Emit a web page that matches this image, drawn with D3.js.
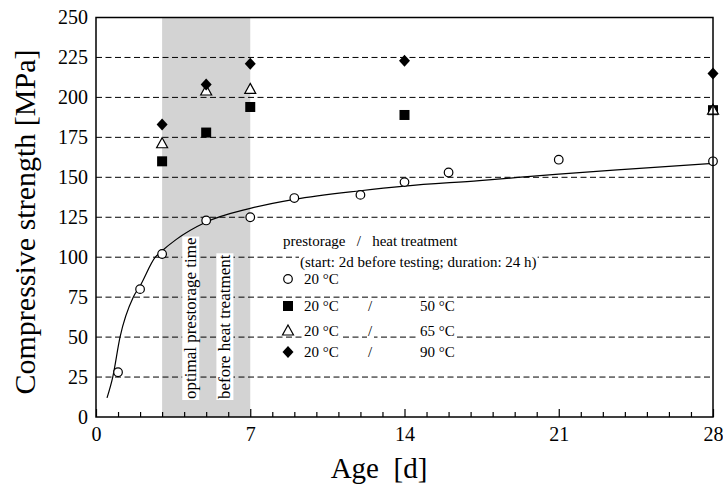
<!DOCTYPE html>
<html><head><meta charset="utf-8">
<script src="https://cdn.jsdelivr.net/npm/d3@7"></script>
<style>
body{margin:0;background:#fff}
text{font-family:"Liberation Serif","Times New Roman",serif;fill:#000}
</style>
</head><body>
<svg id="c" width="723" height="486"></svg>
<script>
// ---- data ----
const yTicks = [0, 25, 50, 75, 100, 125, 150, 175, 200, 225, 250];
const gridVals = [25, 50, 75, 100, 125, 150, 175, 200, 225];
const xTicks = [0, 7, 14, 21, 28];
const xMinor = d3.range(0, 29);

const ageRef = [1, 2, 3, 5, 7, 9, 12, 14, 16, 21, 28];
const strRef = [28, 80, 102, 123, 125, 137, 139, 147, 153, 161, 160];

const age50 = [3, 5, 7, 14, 28];
const str50 = [160, 178, 194, 189, 192];

const age65 = [3, 5, 7, 28];
const str65 = [171, 204, 205, 192];

const age90 = [3, 5, 7, 14, 28];
const str90 = [183, 208, 221, 223, 215];

const fitAge = [0.5, 0.76, 1.09, 1.69, 2.0, 2.69, 3.0, 3.63, 5, 7, 9, 12, 14, 17.4, 21, 24.5, 28];
const fitStr = [12, 25, 50, 75, 82, 100, 104, 111, 122, 130.6, 136.2, 141.6, 144.5, 147.9, 152, 155.4, 158.7];

const shadeRange = [3, 7];

// ---- scales ----
const svg = d3.select("#c");
const x = d3.scaleLinear().domain([0, 28]).range([96, 713]);
const y = d3.scaleLinear().domain([0, 250]).range([417, 17.5]);

// shaded band
svg.append("rect")
  .attr("x", x(shadeRange[0])).attr("y", y(250))
  .attr("width", x(shadeRange[1]) - x(shadeRange[0]))
  .attr("height", y(0) - y(250))
  .attr("fill", "#d3d3d3");

// grid
svg.append("g").selectAll("line").data(gridVals).join("line")
  .attr("x1", x(0)).attr("x2", x(28))
  .attr("y1", d => y(d)).attr("y2", d => y(d))
  .attr("stroke", "#000").attr("stroke-width", 1)
  .attr("stroke-dasharray", "6,3.5");

// helper: text with white background
function boxedText(g, txt, size, anchor) {
  const t = g.append("text").attr("font-size", size)
    .attr("text-anchor", anchor || "start")
    .attr("dominant-baseline", "central")
    .attr("xml:space", "preserve")
    .style("white-space", "pre")
    .text(txt);
  const bb = t.node().getBBox();
  g.insert("rect", "text")
    .attr("x", bb.x - 1).attr("y", bb.y + 1)
    .attr("width", bb.width + 2).attr("height", bb.height - 2)
    .attr("fill", "#fff");
  return t;
}

// vertical annotations
const v1 = svg.append("g").attr("transform", `translate(${x(4.3)},399) rotate(-90)`);
boxedText(v1, "optimal prestorage time", 17);
const v2 = svg.append("g").attr("transform", `translate(${x(5.85)},399) rotate(-90)`);
boxedText(v2, "before heat treatment", 17);

// legend
const legRows = [
  {sym: "circle", a: "20 °C", b: ""},
  {sym: "square", a: "20 °C", b: "50 °C"},
  {sym: "triangle", a: "20 °C", b: "65 °C"},
  {sym: "diamond", a: "20 °C", b: "90 °C"}
];
const legY = [279, 306, 331, 352];
const lt = svg.append("g").attr("transform", "translate(283,241)");
boxedText(lt, "prestorage   /   heat treatment", 15);
const lt2 = svg.append("g").attr("transform", "translate(300,262)");
boxedText(lt2, "(start: 2d before testing; duration: 24 h)", 15);
legRows.forEach((r, i) => {
  const g1 = svg.append("g").attr("transform", `translate(304,${legY[i]})`);
  boxedText(g1, r.a, 15);
  if (r.b) {
    const g2 = svg.append("g").attr("transform", `translate(368,${legY[i]})`);
    boxedText(g2, "/", 15);
    const g3 = svg.append("g").attr("transform", `translate(420,${legY[i]})`);
    boxedText(g3, r.b, 15);
  }
});

// fitted curve
const fit = fitAge.map((d, i) => [d, fitStr[i]]);
svg.append("path")
  .attr("d", d3.line().x(d => x(d[0])).y(d => y(d[1])).curve(d3.curveMonotoneX)(fit))
  .attr("fill", "none").attr("stroke", "#000").attr("stroke-width", 1.2);

// markers
function marker(g, type, cx, cy) {
  if (type === "circle") {
    g.append("circle").attr("cx", cx).attr("cy", cy).attr("r", 4.3)
      .attr("fill", "#fff").attr("stroke", "#000").attr("stroke-width", 1.2);
  } else if (type === "square") {
    g.append("rect").attr("x", cx - 5).attr("y", cy - 5).attr("width", 10).attr("height", 10)
      .attr("fill", "#000");
  } else if (type === "triangle") {
    g.append("path").attr("d", `M${cx},${cy - 6}L${cx + 5.5},${cy + 4}L${cx - 5.5},${cy + 4}Z`)
      .attr("fill", "#fff").attr("stroke", "#000").attr("stroke-width", 1.2);
  } else {
    g.append("path").attr("d", `M${cx},${cy - 6}L${cx + 5.5},${cy}L${cx},${cy + 6}L${cx - 5.5},${cy}Z`)
      .attr("fill", "#000");
  }
}
const mg = svg.append("g");
ageRef.forEach((d, i) => marker(mg, "circle", x(d), y(strRef[i])));
age50.forEach((d, i) => marker(mg, "square", x(d), y(str50[i])));
age65.forEach((d, i) => marker(mg, "triangle", x(d), y(str65[i])));
age90.forEach((d, i) => marker(mg, "diamond", x(d), y(str90[i])));
legRows.forEach((r, i) => marker(mg, r.sym, 288, legY[i]));

// axes
const xAxis = svg.append("g").attr("transform", `translate(0,${y(0)})`)
  .call(d3.axisBottom(x).tickValues(xMinor).tickSize(-5).tickPadding(10)
    .tickFormat(d => xTicks.includes(d) ? d : ""));
xAxis.selectAll(".tick line").attr("y2", d => xTicks.includes(d) ? -8 : -5).attr("stroke-width", 1.2);
xAxis.select(".domain").remove();
xAxis.selectAll("text").attr("font-size", 20).style("font-family", '"Liberation Serif",serif');

const yAxis = svg.append("g").attr("transform", `translate(${x(0)},0)`)
  .call(d3.axisLeft(y).tickValues(yTicks).tickSize(0).tickPadding(8));
yAxis.select(".domain").remove();
yAxis.selectAll("text").attr("font-size", 20).style("font-family", '"Liberation Serif",serif');

// frame
svg.append("rect").attr("x", x(0)).attr("y", y(250))
  .attr("width", x(28) - x(0)).attr("height", y(0) - y(250))
  .attr("fill", "none").attr("stroke", "#000").attr("stroke-width", 1.5);

// titles
svg.append("text").attr("transform", "translate(24,222) rotate(-90)")
  .attr("text-anchor", "middle").attr("dominant-baseline", "central")
  .attr("font-size", 30).text("Compressive strength [MPa]");
svg.append("text").attr("x", 379).attr("y", 478)
  .attr("text-anchor", "middle").attr("font-size", 29)
  .style("white-space", "pre").text("Age  [d]");
</script>
</body></html>
